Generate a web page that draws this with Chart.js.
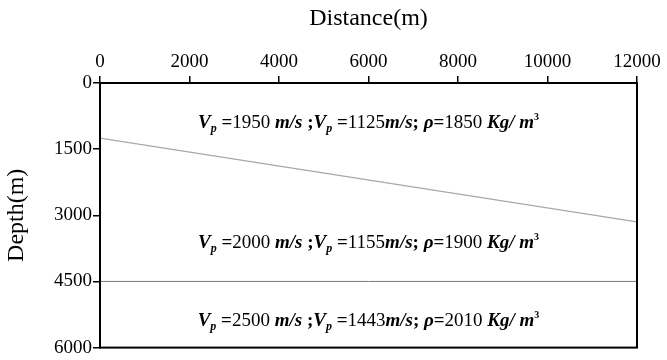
<!DOCTYPE html>
<html>
<head>
<meta charset="utf-8">
<script src="https://cdn.jsdelivr.net/npm/chart.js@4"></script>
<style>
  html, body { margin: 0; padding: 0; background: #fff; }
  #wrap { width: 667px; height: 360px; }
</style>
</head>
<body>
<div id="wrap"><canvas id="model"></canvas></div>
<script>
// ── data ─────────────────────────────────────────
const distanceTicks = [0, 2000, 4000, 6000, 8000, 10000, 12000];
const depthTicks    = [0, 1500, 3000, 4500, 6000];

// interface 1 (dipping) and interface 2 (flat)
const dipX     = [0, 12000];
const dipDepth = [1250, 3150];
const flatX     = [0, 12000];
const flatDepth = [4500, 4500];

// layer properties
const layerVp    = [1950, 2000, 2500];
const layerVs    = [1125, 1155, 1443];
const layerRho   = [1850, 1900, 2010];
const labelDepth = [880, 3600, 5370];
const labelX     = 6000;

const SERIF = '"Liberation Serif", "Times New Roman", serif';

// ── layer text plugin ───────────────────────────
const layerText = {
  id: 'layerText',
  afterDatasetsDraw(chart) {
    const { ctx, scales: { x, y } } = chart;
    ctx.save();
    ctx.fillStyle = '#000';
    ctx.textBaseline = 'alphabetic';
    layerVp.forEach((vp, i) => {
      const bi = 'italic bold 19px ' + SERIF;
      const b  = 'bold 19px ' + SERIF;
      const n  = '19px ' + SERIF;
      const sub = 'italic bold 12px ' + SERIF;
      const sup = 'bold 10px ' + SERIF;
      const parts = [
        [bi, 'V', 0], [sub, 'p', 4], [b, ' =', 0], [n, String(vp), 0], [bi, ' m/s', 0], [b, ' ;', 0],
        [bi, 'V', 0], [sub, 'p', 4], [b, ' =', 0], [n, String(layerVs[i]), 0], [bi, 'm/s', 0], [b, '; ', 0],
        [bi, 'ρ', 0], [b, '=', 0], [n, layerRho[i] + ' ', 0], [bi, 'Kg/ m', 0], [sup, '3', -8]
      ];
      let w = 0;
      parts.forEach(p => { ctx.font = p[0]; w += ctx.measureText(p[1]).width; });
      let cx = x.getPixelForValue(labelX) - w / 2;
      const cy = y.getPixelForValue(labelDepth[i]) + 6;
      parts.forEach(p => {
        ctx.font = p[0];
        ctx.fillText(p[1], cx, cy + p[2]);
        cx += ctx.measureText(p[1]).width;
      });
    });
    ctx.restore();
  }
};

// closed frame round the plot
const frame = {
  id: 'frame',
  afterDraw(chart) {
    const { ctx, chartArea: a } = chart;
    ctx.save();
    ctx.strokeStyle = '#000';
    ctx.lineWidth = 2;
    ctx.strokeRect(a.left, a.top, a.right - a.left, a.bottom - a.top);
    ctx.restore();
  }
};

const ctx = document.getElementById('model').getContext('2d');
new Chart(ctx, {
  type: 'line',
  data: {
    datasets: [
      {
        data: dipX.map((v, i) => ({ x: v, y: dipDepth[i] })),
        borderColor: '#a8a8a8',
        borderWidth: 1.2,
        pointRadius: 0
      },
      {
        data: flatX.map((v, i) => ({ x: v, y: flatDepth[i] })),
        borderColor: '#7a7a7a',
        borderWidth: 1,
        pointRadius: 0
      }
    ]
  },
  options: {
    responsive: true,
    maintainAspectRatio: false,
    animation: false,
    layout: { padding: { top: 0, right: 30, bottom: 10, left: 0 } },
    plugins: { legend: { display: false }, tooltip: { enabled: false } },
    scales: {
      x: {
        type: 'linear',
        position: 'top',
        min: 0, max: 12000,
        afterBuildTicks: s => { s.ticks = distanceTicks.map(v => ({ value: v })); },
        afterFit: s => { s.height = 83; },
        ticks: { color: '#000', font: { family: SERIF, size: 19 }, padding: 3, maxRotation: 0, callback: v => String(v) },
        grid: { display: true, drawOnChartArea: false, drawTicks: true, tickLength: 7, color: '#000', lineWidth: 1.5 },
        border: { display: true, color: '#000', width: 2 },
        title: { display: true, text: 'Distance(m)', color: '#000', font: { family: SERIF, size: 24 }, padding: { top: 4, bottom: 4 } }
      },
      y: {
        type: 'linear',
        reverse: true,
        min: 0, max: 6000,
        afterBuildTicks: s => { s.ticks = depthTicks.map(v => ({ value: v })); },
        afterFit: s => { s.width = 100; },
        ticks: { color: '#000', font: { family: SERIF, size: 19 }, padding: 1, callback: v => String(v) },
        grid: { display: true, drawOnChartArea: false, drawTicks: true, tickLength: 7, color: '#000', lineWidth: 1.5 },
        border: { display: true, color: '#000', width: 2 },
        title: { display: true, text: 'Depth(m)', color: '#000', font: { family: SERIF, size: 24 }, padding: { top: 2, bottom: 0 } }
      }
    }
  },
  plugins: [layerText, frame]
});
</script>
</body>
</html>
